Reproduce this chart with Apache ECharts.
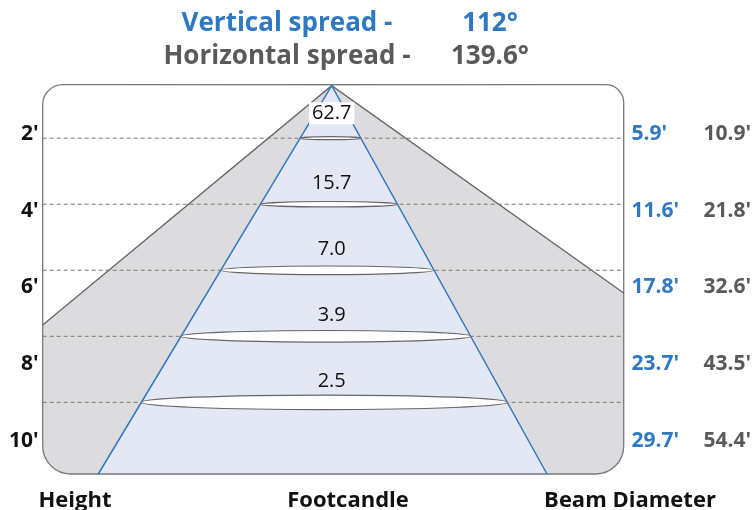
<!DOCTYPE html>
<html lang="en">
<head>
<meta charset="UTF-8">
<script src="https://cdn.jsdelivr.net/npm/echarts@6/dist/echarts.min.js"></script>
<title>Beam spread</title>
<style>
  html, body { margin: 0; padding: 0; background: #fff; }
  #main { width: 754px; height: 510px; }
</style>
</head>
<body>
<div id="main"></div>
<script>
  // values
  var heightLabels = ["2'", "4'", "6'", "8'", "10'"];
  var heightFeet = [2, 4, 6, 8, 10];
  var footcandles = ['62.7', '15.7', '7.0', '3.9', '2.5'];
  var verticalDiameter = ["5.9'", "11.6'", "17.8'", "23.7'", "29.7'"];
  var horizontalDiameter = ["10.9'", "21.8'", "32.6'", "43.5'", "54.4'"];
  var verticalSpread = '112°';
  var horizontalSpread = '139.6°';
  var columnTitles = ['Height', 'Footcandle', 'Beam Diameter'];

  // schematic geometry: diagram units across, feet down (not to scale)
  var X_MIN = -289, X_MAX = 292;
  var Y_TOP = 0.38, Y_BOTTOM = 12.17;
  var APEX = [0, 0.41];
  var BEAM_LEFT = -233.4, BEAM_RIGHT = 215.3;        // blue cone at the floor
  var SPREAD_LEFT_Y = 7.66, SPREAD_RIGHT_Y = 6.69;  // grey cone hits the box sides

  var FONT = '"Open Sans", "Noto Sans", sans-serif';
  var BLUE = '#2f78c2';
  var GREY_TEXT = '#5a5a5a';

  var chart = echarts.init(document.getElementById('main'));

  function renderFrame(params, api) {
    var tl = api.coord([X_MIN, Y_TOP]);
    var br = api.coord([X_MAX, Y_BOTTOM]);
    var apex = api.coord(APEX);
    var gl = api.coord([X_MIN, SPREAD_LEFT_Y]);
    var gr = api.coord([X_MAX, SPREAD_RIGHT_Y]);
    var bl = api.coord([BEAM_LEFT, Y_BOTTOM]);
    var bR = api.coord([BEAM_RIGHT, Y_BOTTOM]);
    var box = { x: tl[0], y: tl[1], width: br[0] - tl[0], height: br[1] - tl[1], r: [20, 18, 28, 28] };
    return {
      type: 'group',
      children: [
        { type: 'rect', shape: box, style: { fill: '#dcdcde' } },
        { type: 'polygon', shape: { points: [apex, tl, gl] }, style: { fill: '#fff' } },
        { type: 'polygon', shape: { points: [apex, [br[0], tl[1]], gr] }, style: { fill: '#fff' } },
        { type: 'polygon', shape: { points: [apex, bl, bR] }, style: { fill: '#e4e8f5' } },
        { type: 'rect', shape: box, style: { fill: 'none', stroke: '#7a7a7a', lineWidth: 1.3 } },
        { type: 'polyline', shape: { points: [gl, apex, gr] }, style: { fill: 'none', stroke: '#666', lineWidth: 1.3 } },
        { type: 'polyline', shape: { points: [bl, apex, bR] }, style: { fill: 'none', stroke: BLUE, lineWidth: 1.5 } }
      ]
    };
  }

  function renderRow(params, api) {
    var i = params.dataIndex;
    var h = api.value(1);
    var t = (h - APEX[1]) / (Y_BOTTOM - APEX[1]);
    var left = api.coord([APEX[0] + (BEAM_LEFT - APEX[0]) * t, h]);
    var right = api.coord([APEX[0] + (BEAM_RIGHT - APEX[0]) * t, h]);
    var l0 = api.coord([X_MIN, h]);
    var r0 = api.coord([X_MAX, h]);
    var mid = api.coord([APEX[0], h]);
    var w = right[0] - left[0];
    var label = {
      type: 'text',
      x: mid[0],
      y: mid[1] - (i === 0 ? 25 : 21),
      style: {
        text: footcandles[i],
        fill: '#111',
        font: '20px ' + FONT,
        align: 'center', verticalAlign: 'middle',
        textAlign: 'center', textVerticalAlign: 'middle'
      }
    };
    if (i === 0) {
      label.style.backgroundColor = '#fff';
      label.style.padding = [1, 3, 1, 3];
    }
    return {
      type: 'group',
      children: [
        { type: 'line', shape: { x1: l0[0], y1: l0[1], x2: r0[0], y2: r0[1] },
          style: { stroke: '#777', lineWidth: 1, lineDash: [4, 3] } },
        { type: 'ellipse', shape: { cx: (left[0] + right[0]) / 2, cy: left[1], rx: w / 2, ry: Math.max(1.5, w * 0.02) },
          style: { fill: '#fff', stroke: '#666', lineWidth: 1.2 } },
        label
      ]
    };
  }

  function headerText(text, x, y, color, size) {
    return {
      type: 'text', x: x, y: y,
      style: {
        text: text, fill: color,
        font: 'bold ' + size + 'px ' + FONT,
        align: 'center', verticalAlign: 'middle',
        textAlign: 'center', textVerticalAlign: 'middle'
      }
    };
  }

  chart.setOption({
    animation: false,
    grid: [
      { left: 42.7, right: 130.3, top: 84.7, bottom: 36 },
      { left: 42.7, right: 130.3, top: 95.6, bottom: 30.6 }
    ],
    xAxis: [
      { type: 'value', gridIndex: 0, min: X_MIN, max: X_MAX, show: false },
      { type: 'value', gridIndex: 1, min: 0, max: 1, show: false }
    ],
    yAxis: [
      { type: 'value', gridIndex: 0, inverse: true, min: Y_TOP, max: Y_BOTTOM, show: false },
      {
        type: 'category', gridIndex: 1, inverse: true, position: 'left', data: heightLabels,
        axisLine: { show: false }, axisTick: { show: false }, splitLine: { show: false },
        axisLabel: { margin: 4, color: '#111', fontWeight: 'bold', fontSize: 21, fontFamily: FONT }
      },
      {
        type: 'category', gridIndex: 1, inverse: true, position: 'right', data: heightLabels,
        axisLine: { show: false }, axisTick: { show: false }, splitLine: { show: false },
        axisLabel: {
          margin: 9,
          formatter: function (v, idx) {
            return '{b|' + verticalDiameter[idx] + '}{g|' + horizontalDiameter[idx] + '}';
          },
          rich: {
            b: { color: BLUE, fontWeight: 'bold', fontSize: 21, fontFamily: FONT, width: 72, align: 'left' },
            g: { color: GREY_TEXT, fontWeight: 'bold', fontSize: 21, fontFamily: FONT, align: 'left' }
          }
        }
      }
    ],
    graphic: { elements: [
      headerText('Vertical spread -', 287, 24, BLUE, 26),
      headerText(verticalSpread, 490, 24, BLUE, 26),
      headerText('Horizontal spread -', 287, 57, GREY_TEXT, 26),
      headerText(horizontalSpread, 490, 57, GREY_TEXT, 26),
      headerText(columnTitles[0], 75, 501, '#111', 22),
      headerText(columnTitles[1], 348, 501, '#111', 22),
      headerText(columnTitles[2], 630, 501, '#111', 22)
    ] },
    series: [
      { type: 'custom', xAxisIndex: 0, yAxisIndex: 0, data: [[0, 0]], renderItem: renderFrame, silent: true },
      { type: 'custom', xAxisIndex: 0, yAxisIndex: 0, data: heightFeet.map(function (h) { return [APEX[0], h]; }),
        renderItem: renderRow, silent: true },
      { type: 'scatter', xAxisIndex: 1, yAxisIndex: 1, data: [] },
      { type: 'scatter', xAxisIndex: 1, yAxisIndex: 2, data: [] }
    ]
  });
</script>
</body>
</html>
